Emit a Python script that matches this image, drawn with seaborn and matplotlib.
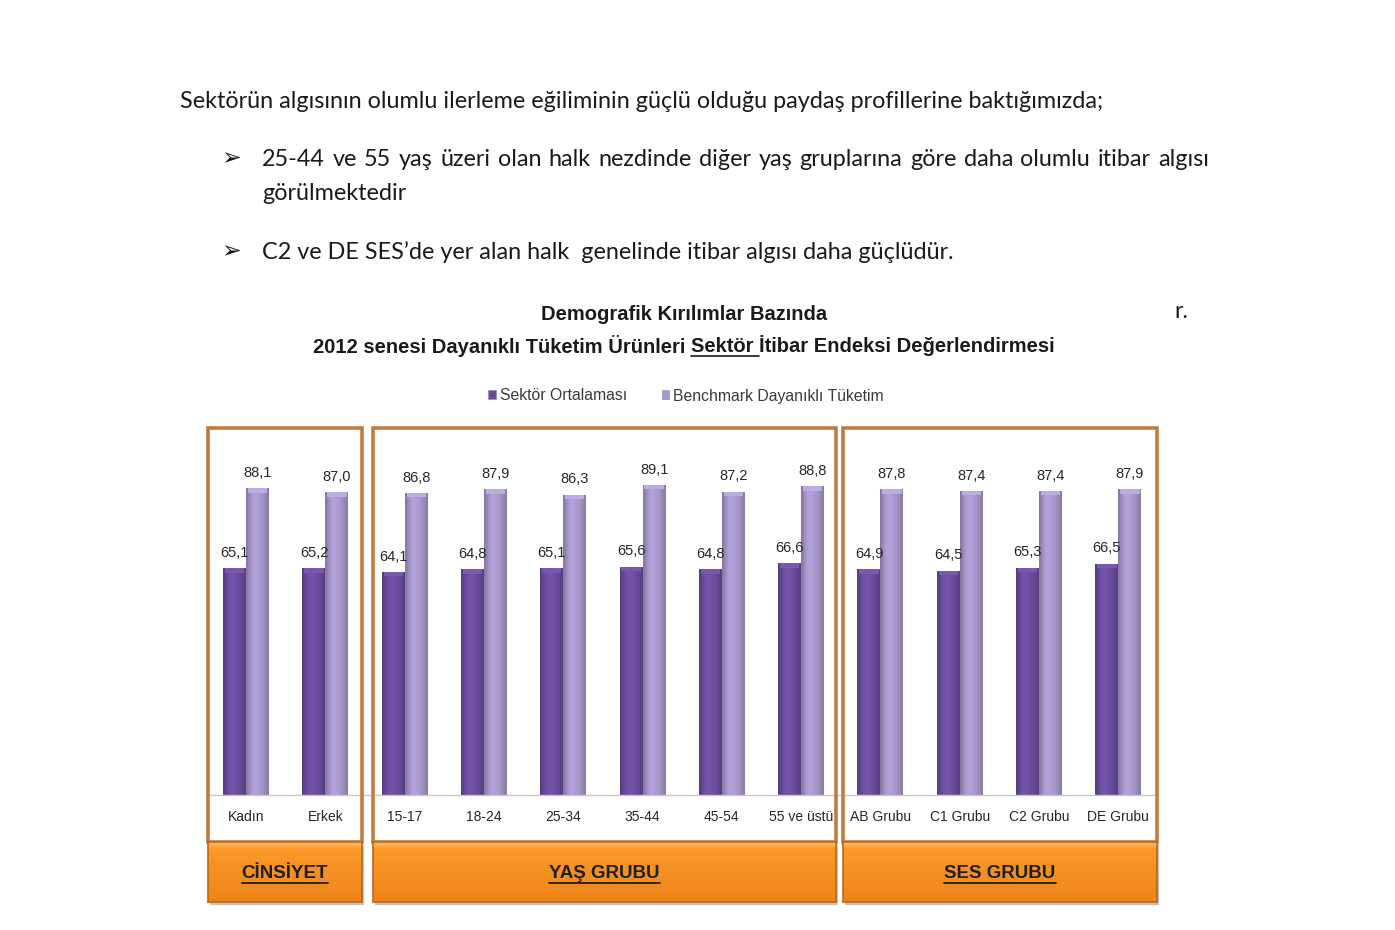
import matplotlib
matplotlib.use("Agg")
import matplotlib.pyplot as plt
import seaborn as sns
import pandas as pd
import numpy as np
from matplotlib.patches import Rectangle, Patch
from matplotlib.lines import Line2D

# ---------------- data ----------------
categories = ["Kadın", "Erkek", "15-17", "18-24", "25-34", "35-44", "45-54",
              "55 ve üstü", "AB Grubu", "C1 Grubu", "C2 Grubu", "DE Grubu"]
sektor = [65.1, 65.2, 64.1, 64.8, 65.1, 65.6, 64.8, 66.6, 64.9, 64.5, 65.3, 66.5]
benchmark = [88.1, 87.0, 86.8, 87.9, 86.3, 89.1, 87.2, 88.8, 87.8, 87.4, 87.4, 87.9]
series_names = ["Sektör Ortalaması", "Benchmark Dayanıklı Tüketim"]
group_names = ["CİNSİYET", "YAŞ GRUBU", "SES GRUBU"]
group_sizes = [2, 6, 4]

intro = "Sektörün algısının olumlu ilerleme eğiliminin güçlü olduğu paydaş profillerine baktığımızda;"
bullet1_line1 = "25-44 ve 55 yaş üzeri olan halk nezdinde diğer yaş gruplarına göre daha olumlu itibar algısı"
bullet1_line2 = "görülmektedir"
bullet2 = "C2 ve DE SES’de yer alan halk  genelinde itibar algısı daha güçlüdür."
title1 = "Demografik Kırılımlar Bazında"
title2_a = "2012 senesi Dayanıklı Tüketim Ürünleri "
title2_u = "Sektör "
title2_b = "İtibar Endeksi Değerlendirmesi"

df = pd.DataFrame({
    "Kategori": categories * 2,
    "Değer": sektor + benchmark,
    "Seri": [series_names[0]] * len(categories) + [series_names[1]] * len(categories),
})

W, H = 1395, 930
DARK = "#6B4D9E"
LIGHT = "#A797CB"
BORDER = "#C27B3F"
TXT = "#1A1A1A"
TITLE_FS = 14.5

sns.set_style("white")
plt.rcParams["font.family"] = ["Liberation Sans", "DejaVu Sans"]

fig = plt.figure(figsize=(W / 100, H / 100), dpi=100)
fig.patch.set_facecolor("white")


def fx(x):
    return x / W


def fy(y):
    return 1 - y / H


# ---------------- chart axes ----------------
ax_left, ax_right, ax_base, ax_top = 206.5, 1158.0, 795.0, 430.0
ax = fig.add_axes([fx(ax_left), fy(ax_base), (ax_right - ax_left) / W, (ax_base - ax_top) / H])
sns.barplot(data=df, x="Kategori", y="Değer", hue="Seri", palette=[DARK, LIGHT],
            width=0.58, ax=ax, legend=False, saturation=1, edgecolor="none")
ax.set_xlabel("")
ax.set_ylabel("")
ax.set_yticks([])
for s in ["left", "top", "right"]:
    ax.spines[s].set_visible(False)
ax.spines["bottom"].set_color("#C8C8C8")
ax.spines["bottom"].set_linewidth(1)
ax.set_facecolor("none")
ax.tick_params(axis="x", which="major", length=0, pad=11, labelsize=10, labelcolor="#262626")
ax.set_xticks(np.arange(len(categories) + 1) - 0.5, minor=True)
ax.tick_params(axis="x", which="minor", length=4, color="#C8C8C8", width=1)

# bar shading: cylinder-like horizontal gradient clipped to each bar
for ci, (cont, vals) in enumerate(zip(ax.containers, [sektor, benchmark])):
    base = np.array(matplotlib.colors.to_rgb(DARK if ci == 0 else LIGHT))
    prof = np.array([0.80, 0.95, 1.05, 1.08, 1.06, 1.02, 0.98, 0.92, 0.82])
    img = np.clip(base[None, None, :] * prof[None, :, None], 0, 1)
    for p in cont.patches:
        x0, w, h = p.get_x(), p.get_width(), p.get_height()
        im = ax.imshow(img, extent=[x0, x0 + w, 0, h], aspect="auto",
                       interpolation="bicubic", zorder=p.get_zorder() + 0.1)
        im.set_clip_path(p)
        ax.add_patch(Rectangle((x0 + w * 0.08, h - 1.3), w * 0.84, 1.3,
                               facecolor=np.clip(base * 1.13, 0, 1), edgecolor="none",
                               zorder=p.get_zorder() + 0.2))
    ax.bar_label(cont, labels=[f"{v:.1f}".replace(".", ",") for v in vals],
                 padding=6, fontsize=10.5, color="#262626")
ax.set_xlim(-0.5, len(categories) - 0.5)
ax.set_ylim(0, (ax_base - ax_top) / 3.48)

# ---------------- group frames and orange headers ----------------
frames = [(208, 362), (373, 836), (843, 1157)]
for (x0, x1), name in zip(frames, group_names):
    fig.add_artist(Rectangle((fx(x0), fy(842)), (x1 - x0) / W, (842 - 428) / H,
                             transform=fig.transFigure, fill=False,
                             edgecolor=BORDER, linewidth=2.6, zorder=3))
    fig.add_artist(Rectangle((fx(x0 + 2), fy(905)), (x1 - x0) / W, (905 - 845) / H,
                             transform=fig.transFigure, facecolor="#9A9A9A",
                             edgecolor="none", alpha=0.6, zorder=3))
    hax = fig.add_axes([fx(x0), fy(902), (x1 - x0) / W, (902 - 842) / H], zorder=4)
    grad = np.linspace(0, 1, 60)[:, None]
    top = np.array([1.0, 0.74, 0.40])
    mid = np.array([0.98, 0.60, 0.16])
    bot = np.array([0.94, 0.52, 0.10])
    cols = np.where(grad[..., None] < 0.12,
                    top + (mid - top) * (grad[..., None] / 0.12),
                    mid + (bot - mid) * ((grad[..., None] - 0.12) / 0.88))
    hax.imshow(cols, aspect="auto", extent=[0, 1, 0, 1], origin="upper")
    hax.set_xticks([])
    hax.set_yticks([])
    for s in hax.spines.values():
        s.set_edgecolor("#B86A20")
        s.set_linewidth(1.2)
    hax.set_xlim(0, 1)
    hax.set_ylim(0, 1)
    hax.text(0.5, 0.48, name, ha="center", va="center", fontsize=13.5,
             fontweight="bold", color="#1F1F1F", transform=hax.transAxes)

# ---------------- legend ----------------
handles = [Patch(facecolor=DARK, edgecolor="#9a8fb5", linewidth=0.5),
           Patch(facecolor=LIGHT, edgecolor="#9a8fb5", linewidth=0.5)]
fig.legend(handles, series_names, loc="center", bbox_to_anchor=(fx(686), fy(396)),
           ncol=2, frameon=False, fontsize=11.3, handlelength=0.5, handleheight=0.5,
           handletextpad=0.25, columnspacing=2.2, labelcolor="#3A3A3A")

# ---------------- titles ----------------
fig.text(fx(684), fy(315), title1, ha="center", va="center", fontsize=TITLE_FS,
         fontweight="bold", color=TXT)

body_font = ["Lato", "DejaVu Sans"]
body_size = 15.5

t_intro = fig.text(fx(180), fy(102), intro, ha="left", va="center",
                   fontsize=body_size, family=body_font, color=TXT)

fig.canvas.draw()
renderer = fig.canvas.get_renderer()
wpx = t_intro.get_window_extent(renderer).width
body_size = body_size * (1100 - 180) / wpx
t_intro.set_fontsize(body_size)

parts = [title2_a, title2_u, title2_b]
tmp = [fig.text(0, 0, p, fontsize=TITLE_FS, fontweight="bold") for p in parts]
fig.canvas.draw()
widths = [t.get_window_extent(renderer).width for t in tmp]
for t in tmp:
    t.remove()
total = sum(widths)
x = 684 - total / 2
for p, w in zip(parts, widths):
    fig.text(fx(x), fy(346), p, ha="left", va="center", fontsize=TITLE_FS,
             fontweight="bold", color=TXT)
    if p == title2_u:
        fig.add_artist(Line2D([fx(x), fx(x + w)], [fy(356), fy(356)],
                              transform=fig.transFigure, color=TXT, lw=1.2))
    x += w

for (x0, x1), name in zip(frames, group_names):
    t = fig.text(0, 0, name, fontsize=13.5, fontweight="bold")
    fig.canvas.draw()
    w = t.get_window_extent(renderer).width
    t.remove()
    cx = (x0 + x1) / 2
    fig.add_artist(Line2D([fx(cx - w / 2), fx(cx + w / 2)], [fy(883), fy(883)],
                          transform=fig.transFigure, color="#1F1F1F", lw=1.3, zorder=6))

for yb in (158, 251):
    fig.text(fx(221), fy(yb), "➢", ha="left", va="center", fontsize=17,
             family=["DejaVu Sans"], color=TXT)

words = bullet1_line1.split(" ")
tw = []
for wd in words:
    t = fig.text(0, 0, wd, fontsize=body_size, family=body_font)
    fig.canvas.draw()
    tw.append(t.get_window_extent(renderer).width)
    t.remove()
gap = ((1209 - 262) - sum(tw)) / (len(words) - 1)
x = 262
for wd, w in zip(words, tw):
    fig.text(fx(x), fy(159), wd, ha="left", va="center", fontsize=body_size,
             family=body_font, color=TXT)
    x += w + gap

fig.text(fx(262), fy(194), bullet1_line2, ha="left", va="center", fontsize=body_size,
         family=body_font, color=TXT)
fig.text(fx(262), fy(252), bullet2, ha="left", va="center", fontsize=body_size,
         family=body_font, color=TXT)
fig.text(fx(1174), fy(311), "r.", ha="left", va="center", fontsize=body_size,
         family=body_font, color=TXT)

fig.savefig("out.png", dpi=100, facecolor="white")
